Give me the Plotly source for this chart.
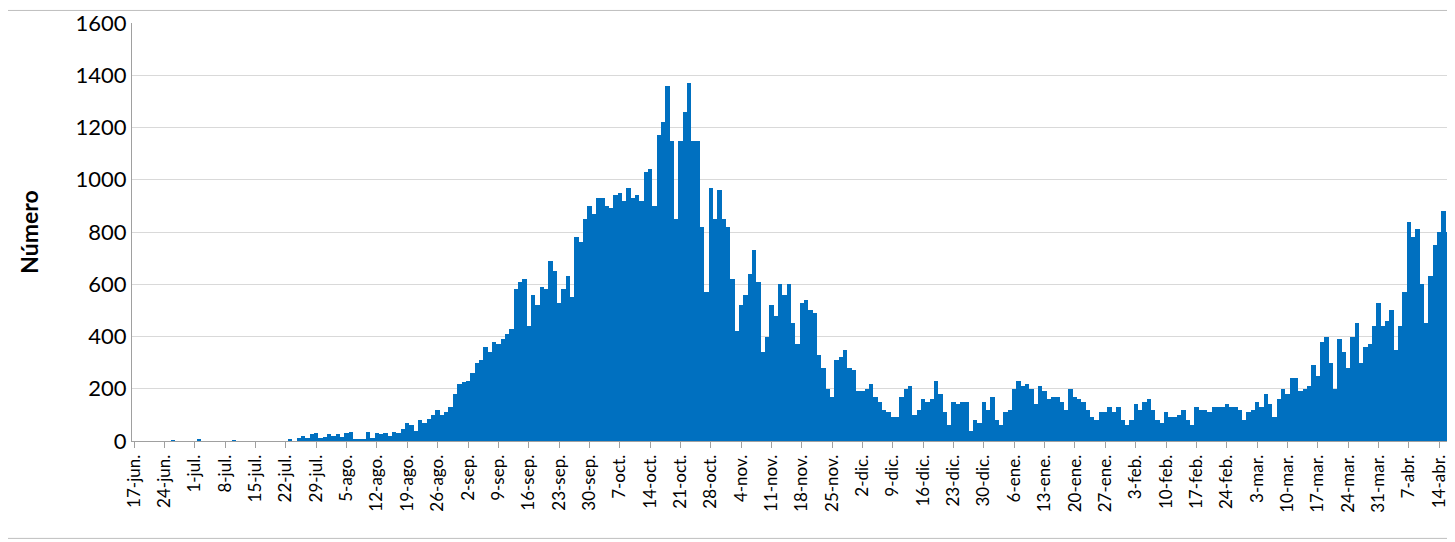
import datetime as dt
import plotly.graph_objs as go

MONTHS = ["ene.", "feb.", "mar.", "abr.", "may.", "jun.", "jul.", "ago.", "sep.", "oct.", "nov.", "dic."]

# daily counts from 17-jun, one row per week
weekly_values = [
    [0, 0, 0, 0, 0, 0, 0],
    [0, 0, 3, 0, 0, 0, 0],
    [0, 5, 0, 0, 0, 0, 0],
    [0, 0, 2, 0, 0, 0, 0],
    [0, 0, 0, 0, 0, 0, 0],
    [0, 5, 0, 12, 20, 10, 25],
    [30, 10, 15, 25, 20, 25, 15],
    [30, 35, 5, 5, 8, 35, 10],
    [30, 25, 30, 20, 35, 30, 45],
    [70, 60, 40, 80, 70, 85, 100],
    [120, 100, 110, 130, 180, 220, 225],
    [230, 260, 300, 310, 360, 340, 380],
    [370, 390, 410, 430, 580, 610, 620],
    [440, 560, 520, 590, 580, 690, 650],
    [530, 580, 630, 550, 780, 760, 850],
    [900, 870, 930, 930, 900, 890, 940],
    [950, 920, 970, 930, 940, 920, 1030],
    [1040, 900, 1170, 1220, 1360, 1150, 850],
    [1150, 1260, 1370, 1150, 1150, 820, 570],
    [970, 850, 960, 850, 820, 620, 420],
    [520, 560, 640, 730, 610, 340, 400],
    [520, 480, 600, 560, 600, 450, 370],
    [530, 540, 500, 490, 330, 280, 200],
    [170, 310, 320, 350, 280, 270, 190],
    [190, 200, 220, 170, 150, 120, 110],
    [90, 90, 170, 200, 210, 100, 120],
    [160, 150, 160, 230, 180, 110, 60],
    [150, 140, 150, 150, 40, 80, 70],
    [150, 120, 170, 80, 60, 110, 120],
    [200, 230, 210, 220, 200, 140, 210],
    [190, 160, 170, 170, 150, 120, 200],
    [170, 160, 150, 120, 90, 80, 110],
    [110, 130, 110, 130, 80, 60, 80],
    [140, 120, 150, 160, 120, 80, 70],
    [110, 90, 90, 100, 120, 80, 60],
    [130, 120, 120, 110, 130, 130, 130],
    [140, 130, 130, 120, 80, 110, 120],
    [150, 130, 180, 140, 90, 160, 200],
    [180, 240, 240, 190, 200, 210, 290],
    [250, 380, 400, 300, 200, 390, 340],
    [280, 400, 450, 300, 360, 370, 440],
    [530, 440, 460, 500, 350, 440, 570],
    [840, 780, 810, 600, 450, 630, 750],
    [800, 880, 800],
]

values = [v for week in weekly_values for v in week]
start = dt.date(2020, 6, 17)
days = [start + dt.timedelta(days=i) for i in range(len(values))]
labels = [f"{d.day}-{MONTHS[d.month - 1]}" for d in days]

fig = go.Figure(go.Bar(x=labels, y=values, marker=dict(color="#0070C0", line_width=0)))

# the page puts the plot 8px in from the corner, so margins are shifted to match
fig.update_layout(
    width=1455, height=542,
    margin=dict(l=124, r=13, t=15, b=109),
    plot_bgcolor="white", paper_bgcolor="white",
    bargap=0, showlegend=False,
    font=dict(family="Lato, Open Sans, sans-serif", color="black"),
    shapes=[dict(type="rect", xref="paper", yref="paper", x0=-0.1, x1=1.002, y0=-0.233, y1=1.03,
                 line=dict(color="#BFBFBF", width=1))],
)
fig.update_xaxes(type="category", tickmode="array", tickvals=labels[::7], ticktext=labels[::7],
                 tickangle=-90, tickfont=dict(size=17), ticks="outside", ticklen=6, tickcolor="#A0A0A0",
                 showline=True, linecolor="#A0A0A0", showgrid=False, automargin=False)
fig.update_yaxes(range=[0, 1600], dtick=200, tickfont=dict(size=22), gridcolor="#D9D9D9",
                 showline=True, linecolor="#A0A0A0", ticks="", zeroline=False, automargin=False,
                 title=dict(text="<b>Número</b>", font=dict(size=23), standoff=30))

fig.write_html("out.html")
